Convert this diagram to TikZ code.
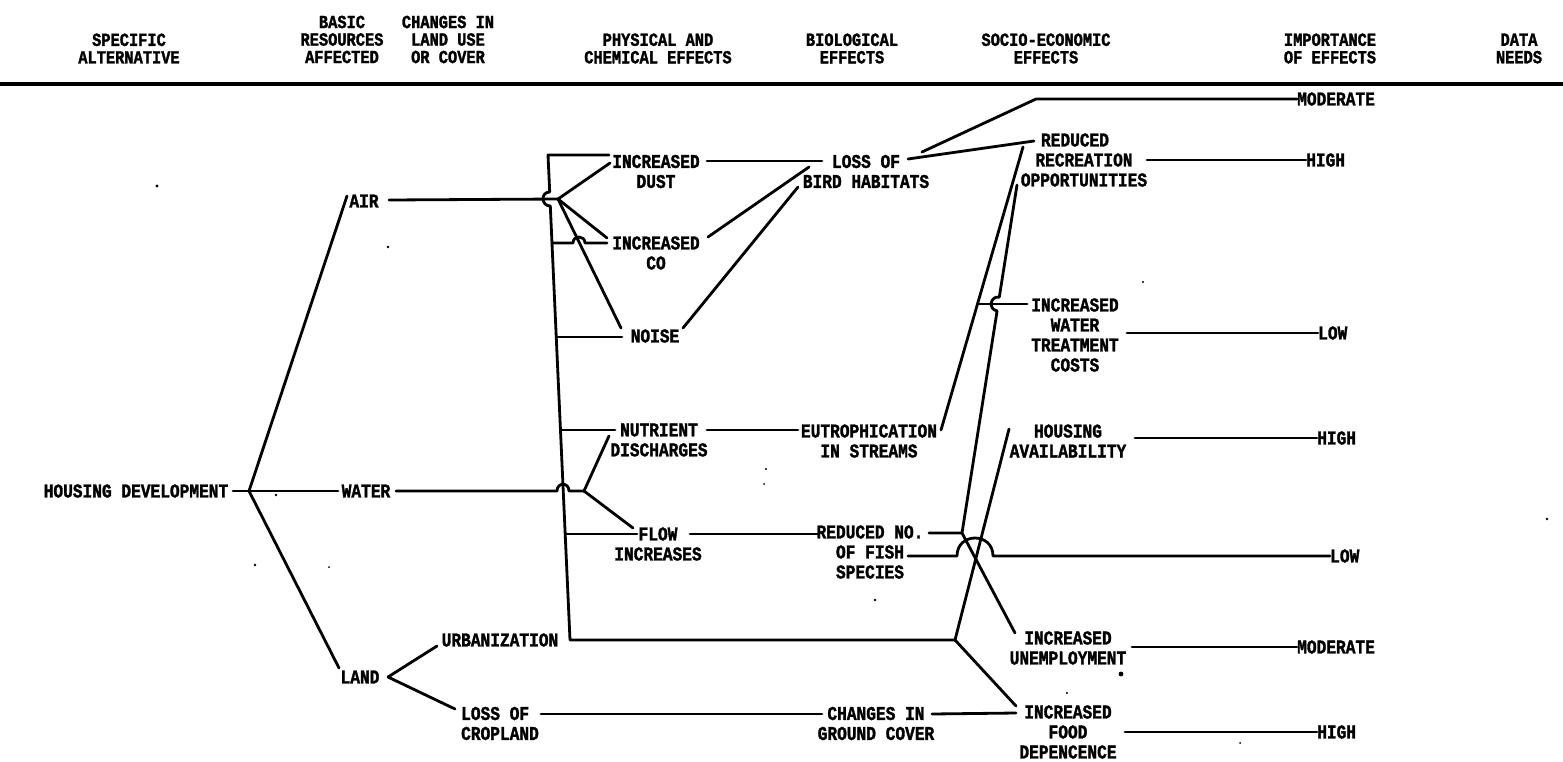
\documentclass[tikz,border=0pt]{standalone}
\usepackage{fontspec}
\newfontfamily\typewriter[FakeStretch=0.83, BoldFeatures={FakeBold=1.6}]{Liberation Mono}
\tikzset{
  lbl/.style={font=\typewriter\bfseries\fontsize{19.5}{20}\selectfont, inner sep=0pt, align=center},
  hdr/.style={font=\typewriter\bfseries\fontsize{18.5}{17.5}\selectfont, inner sep=0pt, align=center},
  link/.style={line width=2.8pt, line cap=round, line join=round},
  rule/.style={line width=3.2pt},
  speck/.style={fill=black, draw=none},
}
\begin{document}
\begin{tikzpicture}[x=1pt,y=-1pt]
\useasboundingbox (0,0) rectangle (1563,761);

% ---- column heads ----
\node[hdr] (hAlt)  at (129,48.5)  {SPECIFIC\\ALTERNATIVE};
\node[hdr] (hRes)  at (342,39.5)  {BASIC\\RESOURCES\\AFFECTED};
\node[hdr] (hLand) at (448,39.5)  {CHANGES IN\\LAND USE\\OR COVER};
\node[hdr] (hPhys) at (658,48.5)  {PHYSICAL AND\\CHEMICAL EFFECTS};
\node[hdr] (hBio)  at (852,48.5)  {BIOLOGICAL\\EFFECTS};
\node[hdr] (hSoc)  at (1046,48.5) {SOCIO-ECONOMIC\\EFFECTS};
\node[hdr] (hImp)  at (1330,48.5) {IMPORTANCE\\OF EFFECTS};
\node[hdr] (hData) at (1519,48.5) {DATA\\NEEDS};
\draw[rule] (0,84) -- (1563,84);

% ---- labels ----
\node[lbl] (hd)    at (136,491)  {HOUSING DEVELOPMENT};
\node[lbl] (air)   at (364,201)  {AIR};
\node[lbl] (water) at (366,491)  {WATER};
\node[lbl] (land)  at (360,677)  {LAND};
\node[lbl] (urban) at (500,640)  {URBANIZATION};
\node[lbl, align=left] (crop) at (500,723.5) {LOSS OF\\CROPLAND};

\node[lbl] (dust)  at (656,171.5) {INCREASED\\DUST};
\node[lbl] (co)    at (656,253)   {INCREASED\\CO};
\node[lbl] (noise) at (655,336)   {NOISE};
\node[lbl] (nutr)  at (659,440)   {NUTRIENT\\DISCHARGES};
\node[lbl] (flow)  at (658,544)   {FLOW\\INCREASES};

\node[lbl] (bird)   at (866,171.5) {LOSS OF\\BIRD HABITATS};
\node[lbl] (eutro)  at (869,441)   {EUTROPHICATION\\IN STREAMS};
\node[lbl] (fish)   at (870,552)   {REDUCED NO.\\OF FISH\\SPECIES};
\node[lbl] (ground) at (876,723.5) {CHANGES IN\\GROUND COVER};

\node[lbl] (recr)    at (1084,160) {REDUCED\hspace*{18pt}\\RECREATION\hspace*{6pt}\\OPPORTUNITIES};
\node[lbl] (wtc)     at (1075,335) {INCREASED\\WATER\\TREATMENT\\COSTS};
\node[lbl] (housing) at (1068,441) {HOUSING\\AVAILABILITY};
\node[lbl] (unemp)   at (1068,648) {INCREASED\\UNEMPLOYMENT};
\node[lbl] (food)    at (1068,732) {INCREASED\\FOOD\\DEPENCENCE};

\node[lbl, anchor=west] (mod1)  at (1297,99)  {MODERATE};
\node[lbl, anchor=west] (high1) at (1306,160) {HIGH};
\node[lbl, anchor=west] (low1)  at (1318,333) {LOW};
\node[lbl, anchor=west] (high2) at (1317,438) {HIGH};
\node[lbl, anchor=west] (low2)  at (1330,556) {LOW};
\node[lbl, anchor=west] (mod2)  at (1297,647) {MODERATE};
\node[lbl, anchor=west] (high3) at (1317,732) {HIGH};

% ---- junctions and ports ----
\coordinate (J0)  at (249,491);
\coordinate (JA)  at (558,199);
\coordinate (JW)  at (584,491);
\coordinate (T0)  at (548,155);
\coordinate (TB)  at (570,640);
\coordinate (UC)  at (955,640);
\coordinate (WB)  at (977.5,304);
\coordinate (FJ)  at (962,533);
\coordinate (LJ)  at (388,677);

\coordinate (hdE)    at (233,491);
\coordinate (airW)   at (347,196);
\coordinate (airE)   at (389,200);
\coordinate (waterW) at (338,491);
\coordinate (waterE) at (396,491);
\coordinate (landW)  at (339,668);
\coordinate (urbanW) at (437,646);
\coordinate (cropW)  at (455,709);
\coordinate (cropE)  at (541,714);

\coordinate (dustW)  at (609,155);
\coordinate (dustW2) at (610,163);
\coordinate (dustE)  at (707,161);
\coordinate (coW)    at (607,238);
\coordinate (coE)    at (708,237);
\coordinate (noiseW) at (621,328);
\coordinate (noiseE) at (683,328);
\coordinate (nutrW)  at (609,436);
\coordinate (nutrE)  at (707,430);
\coordinate (flowW)  at (633,528);
\coordinate (flowE)  at (690,534);

\coordinate (birdW)   at (822,161);
\coordinate (birdW2)  at (809,167);
\coordinate (birdW3)  at (798,187);
\coordinate (birdE)   at (908,159);
\coordinate (birdE2)  at (922,152);
\coordinate (bend)    at (1036,99);
\coordinate (eutroW)  at (798,430);
\coordinate (eutroE)  at (941,430);
\coordinate (fishW)   at (818,534);
\coordinate (fishE)   at (929,533);
\coordinate (fishE2)  at (908,556);
\coordinate (groundW) at (822,714);
\coordinate (groundE) at (932,714);

\coordinate (recrW)   at (1034,141);
\coordinate (recrW2)  at (1023,147);
\coordinate (recrW3)  at (1017,185);
\coordinate (recrE)   at (1147,160);
\coordinate (wtcW)    at (1027,304);
\coordinate (wtcE)    at (1127,333);
\coordinate (housW)   at (1009,429);
\coordinate (housE)   at (1135,438);
\coordinate (unempW)  at (1015,633);
\coordinate (unempE)  at (1132,647);
\coordinate (foodW)   at (1016,706);
\coordinate (foodW2)  at (1016,713);
\coordinate (foodE)   at (1125,732);

% ---- connectors ----
% alternative to resources
\draw[link] (hdE) -- (J0) -- (waterW);
\draw[link] (J0) -- (airW);
\draw[link] (J0) -- (landW);
\draw[link] (LJ) -- (urbanW);
\draw[link] (LJ) -- (cropW);

% air
\draw[link] (airE) -- (JA);
\draw[link] (JA) -- (dustW2);
\draw[link] (JA) -- (coW);
\draw[link] (JA) -- (noiseW);

% urbanization trunk, hopping over the air line
\draw[link] (dustW) -- (T0) -- (549.7,192)
  .. controls (540.4,192) and (541.0,206) .. (550.3,206) -- (TB) -- (UC);
\draw[link] (552,243) -- (573,243) .. controls (573,235) and (585,235) .. (585,243) -- (coW |- 0,243);
\draw[link] (556.3,337) -- (622,337);
\draw[link] (560.5,430) -- (615,430);
\draw[link] (565.2,534) -- (637,534);

% water, hopping over the trunk
\draw[link] (waterE) -- (557,491) .. controls (557,482) and (569,482) .. (569,491) -- (JW);
\draw[link] (JW) -- (nutrW);
\draw[link] (JW) -- (flowW);

% land
\draw[link] (cropE) -- (groundW);
\draw[link] (groundE) -- (foodW2);

% physical to biological
\draw[link] (dustE) -- (birdW);
\draw[link] (coE) -- (birdW2);
\draw[link] (noiseE) -- (birdW3);
\draw[link] (nutrE) -- (eutroW);
\draw[link] (flowE) -- (fishW);

% biological to socio-economic
\draw[link] (birdE) -- (recrW);
\draw[link] (birdE2) -- (bend) -- (mod1.west);
\draw[link] (eutroE) -- (WB) -- (recrW2);
\draw[link] (WB) -- (wtcW);
\draw[link] (fishE) -- (FJ) -- (997.1,310.9)
  .. controls (987.9,309.4) and (990.1,295.6) .. (999.3,297.1) -- (recrW3);
\draw[link] (FJ) -- (unempW);
\draw[link] (UC) -- (housW);
\draw[link] (UC) -- (foodW);
\draw[link] (fishE2) -- (957,556) .. controls (957,532) and (993,532) .. (993,556) -- (low2.west);

% socio-economic to importance
\draw[link] (recrE) -- (high1.west);
\draw[link] (wtcE) -- (low1.west);
\draw[link] (housE) -- (high2.west);
\draw[link] (unempE) -- (mod2.west);
\draw[link] (foodE) -- (high3.west);

% specks on the sheet
\foreach \p/\r in {(157,186)/1.6, (388,247)/1.4, (276,495)/1.3, (255,565)/1.4,
                   (329,567)/1.0, (766,469)/1.1, (764,484)/1.0, (1143,282)/1.2,
                   (875,600)/1.3, (1121,674)/2.4, (1067,693)/1.2, (1240,743)/1.0,
                   (1547,519)/1.4}
  \fill[speck] \p circle (\r);
\end{tikzpicture}
\end{document}
